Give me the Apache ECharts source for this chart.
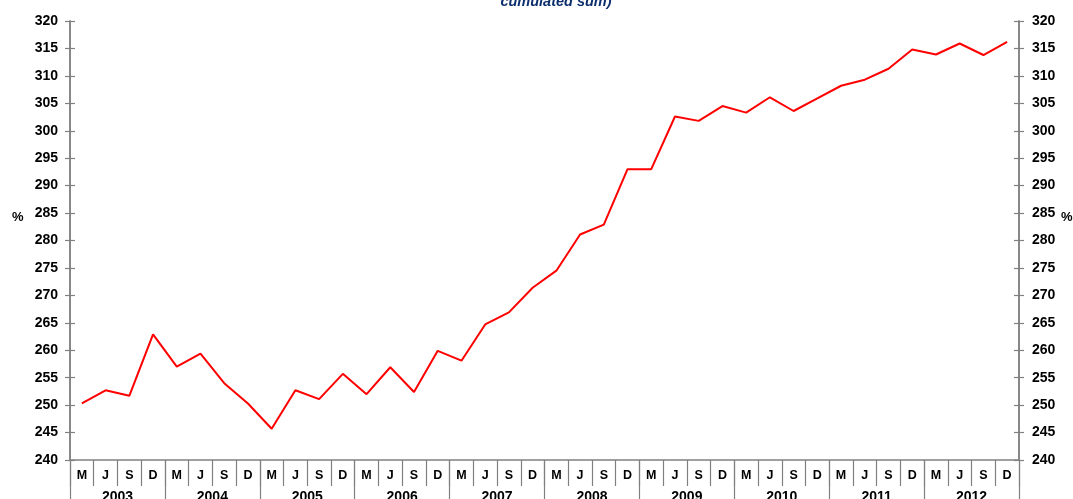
<!DOCTYPE html>
<html>
<head>
<meta charset="utf-8">
<script src="https://cdn.jsdelivr.net/npm/echarts@6/dist/echarts.min.js"></script>
<style>
  html, body { margin: 0; padding: 0; background: #ffffff; }
  #chart { width: 1073px; height: 499px; }
</style>
</head>
<body>
<div id="chart"></div>
<script>
// Quarterly months and years shown on the two-level category axis
const months = ['M', 'J', 'S', 'D'];
const years = ['2003', '2004', '2005', '2006', '2007', '2008', '2009', '2010', '2011', '2012'];

// Cumulated sum, in %, one value per quarter (Mar, Jun, Sep, Dec)
const values = [
  250.3, 252.7, 251.7, 262.9,
  257.0, 259.4, 254.0, 250.3,
  245.7, 252.7, 251.1, 255.7,
  252.0, 256.9, 252.4, 259.9,
  258.1, 264.7, 266.9, 271.4,
  274.5, 281.1, 282.9, 293.0,
  293.0, 302.6, 301.8, 304.5,
  303.3, 306.1, 303.6, 305.9,
  308.2, 309.3, 311.3, 314.8,
  313.9, 315.9, 313.8, 316.2
];

const yTicks = { min: 240, max: 320, interval: 5 };

const quarterCats = [];
years.forEach(y => months.forEach(m => quarterCats.push(m + ' ' + y)));

const axisGrey = '#808080';
const labelFont = { fontFamily: 'Liberation Sans, Arial, sans-serif', fontWeight: 'bold', color: '#000000' };

function valueAxis(position, inside, showLabel, margin) {
  return {
    type: 'value',
    position: position,
    min: yTicks.min,
    max: yTicks.max,
    interval: yTicks.interval,
    axisLine: { show: true, lineStyle: { color: axisGrey, width: 1.5 } },
    axisTick: { show: true, inside: inside, length: 5, lineStyle: { color: axisGrey, width: 1.2 } },
    axisLabel: Object.assign({ show: showLabel, fontSize: 14, margin: margin }, labelFont),
    splitLine: { show: false }
  };
}

const chart = echarts.init(document.getElementById('chart'), null, { renderer: 'canvas' });

chart.setOption({
  animation: false,
  backgroundColor: '#ffffff',
  grid: {
    left: 70, right: 54, top: 21, bottom: 39,
    containLabel: false,
    outerBoundsMode: 'none'
  },
  graphic: [
    // heading line, partly above the top edge of the canvas
    {
      type: 'text', x: 556, y: -6,
      style: {
        text: 'cumulated sum)',
        fontFamily: 'Liberation Sans, Arial, sans-serif',
        fontWeight: 'bold', fontStyle: 'italic', fontSize: 14.5,
        fill: '#0d2f6e', align: 'center', verticalAlign: 'top'
      }
    },
    { type: 'text', left: 12, top: 211, style: Object.assign({ text: '%', fontSize: 13 }, labelFont, { fill: '#000' }) },
    { type: 'text', left: 1061, top: 211, style: Object.assign({ text: '%', fontSize: 13 }, labelFont, { fill: '#000' }) }
  ],
  xAxis: [
    {
      type: 'category',
      data: quarterCats,
      position: 'bottom',
      boundaryGap: true,
      axisLine: { show: true, lineStyle: { color: axisGrey, width: 1.5 } },
      axisTick: { show: true, interval: 0, length: 26, lineStyle: { color: axisGrey, width: 1.2 } },
      axisLabel: Object.assign({
        interval: 0,
        fontSize: 12.5,
        margin: 9,
        formatter: v => v.split(' ')[0]
      }, labelFont)
    },
    {
      type: 'category',
      data: years,
      position: 'bottom',
      boundaryGap: true,
      axisLine: { show: false },
      axisTick: { show: true, interval: 0, length: 45, lineStyle: { color: axisGrey, width: 1.2 } },
      axisLabel: Object.assign({ interval: 0, fontSize: 14, margin: 30 }, labelFont)
    }
  ],
  yAxis: [
    valueAxis('left', false, true, 12),
    valueAxis('right', false, true, 13),
    valueAxis('left', true, false, 0),
    valueAxis('right', true, false, 0)
  ],
  series: [
    {
      type: 'line',
      xAxisIndex: 0,
      yAxisIndex: 0,
      data: values,
      symbol: 'none',
      lineStyle: { color: '#ff0000', width: 2 },
      silent: true
    }
  ]
});
</script>
</body>
</html>
